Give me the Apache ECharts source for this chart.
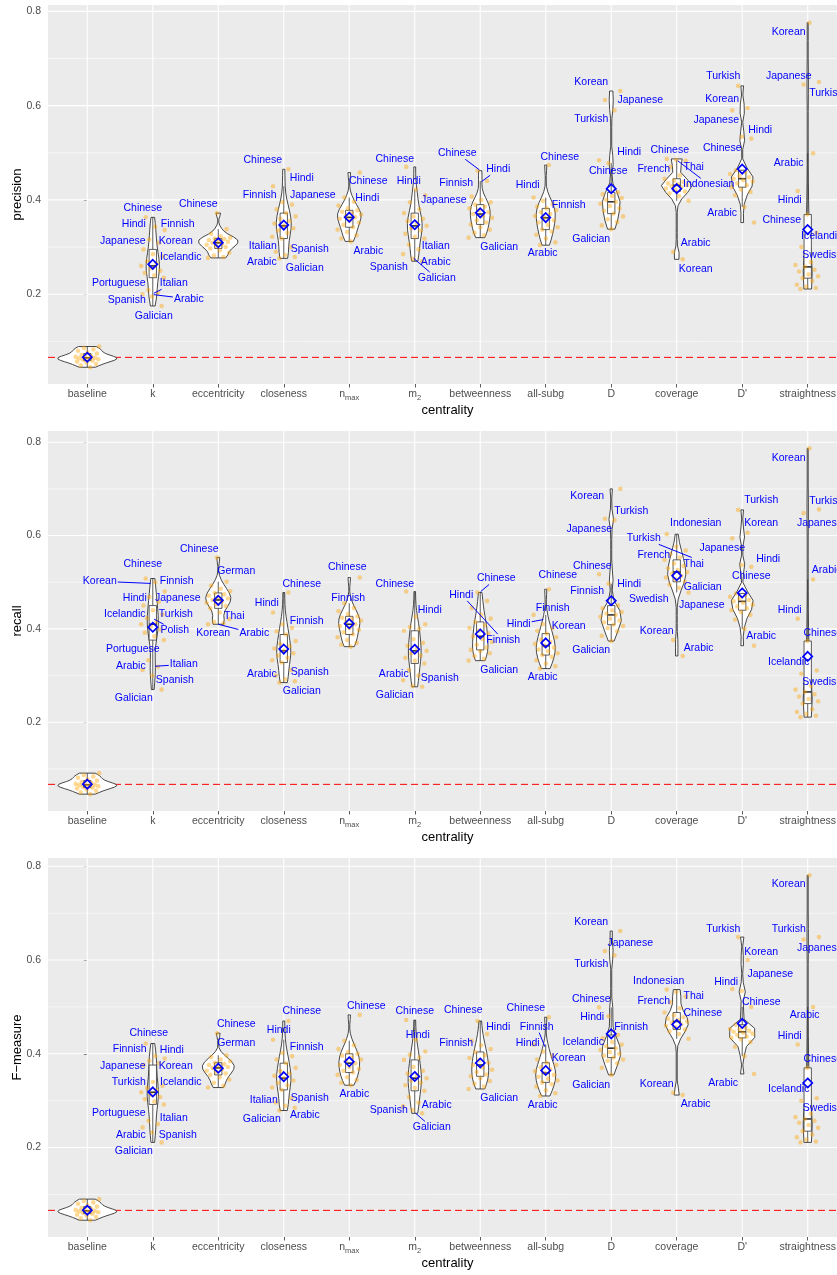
<!DOCTYPE html>
<html><head><meta charset="utf-8">
<script src="https://cdn.jsdelivr.net/npm/echarts@6/dist/echarts.min.js"></script>
<style>html,body{margin:0;padding:0;background:#fff}#c{width:837px;height:1275px}</style>
</head><body><div id="c"></div>
<script>
// ---------------- DATA ----------------
const categories = ['baseline','k','eccentricity','closeness','n_max','m_2','betweenness','all-subg','D','coverage',"D'",'straightness'];
const yTicks = [0.2,0.4,0.6,0.8];
const yMinorTicks = [0.1,0.3,0.5,0.7];
const panelNames = ['precision','recall','F\u2212measure'];
const refLine = [0.066, 0.067, 0.066];
const yRanges = [[0.0095,0.8135],[0.0099,0.824],[0.0092,0.8177]];

const precisionValues = [
 [0.045,0.049,0.052,0.055,0.057,0.059,0.061,0.062,0.063,0.064,0.065,0.066,0.067,0.069,0.071,0.074,0.077,0.080,0.083,0.086,0.089],
 [0.175,0.195,0.200,0.203,0.209,0.235,0.240,0.245,0.250,0.255,0.260,0.265,0.270,0.280,0.285,0.295,0.309,0.316,0.336,0.343,0.363],
 [0.277,0.279,0.282,0.288,0.293,0.297,0.300,0.302,0.305,0.307,0.309,0.311,0.313,0.315,0.317,0.318,0.320,0.323,0.328,0.338,0.372],
 [0.276,0.279,0.283,0.290,0.300,0.318,0.322,0.330,0.335,0.340,0.345,0.350,0.355,0.360,0.365,0.372,0.380,0.390,0.395,0.429,0.465],
 [0.312,0.318,0.325,0.332,0.337,0.342,0.347,0.352,0.356,0.360,0.363,0.366,0.369,0.372,0.375,0.378,0.382,0.388,0.396,0.405,0.458],
 [0.270,0.275,0.285,0.295,0.305,0.318,0.322,0.328,0.335,0.340,0.345,0.350,0.355,0.360,0.365,0.372,0.380,0.395,0.410,0.422,0.470],
 [0.320,0.325,0.330,0.337,0.342,0.348,0.352,0.357,0.362,0.366,0.370,0.374,0.378,0.382,0.386,0.390,0.395,0.400,0.407,0.440,0.462],
 [0.304,0.310,0.318,0.326,0.333,0.337,0.342,0.347,0.352,0.357,0.362,0.366,0.370,0.374,0.378,0.382,0.386,0.391,0.398,0.405,0.474],
 [0.338,0.346,0.353,0.359,0.365,0.371,0.377,0.382,0.387,0.392,0.396,0.400,0.404,0.408,0.412,0.416,0.478,0.484,0.590,0.612,0.631],
 [0.274,0.290,0.398,0.408,0.414,0.418,0.421,0.424,0.427,0.429,0.431,0.433,0.435,0.438,0.441,0.445,0.452,0.470,0.483,0.485,0.487],
 [0.352,0.385,0.410,0.417,0.422,0.427,0.431,0.435,0.439,0.442,0.445,0.448,0.451,0.455,0.459,0.463,0.530,0.534,0.590,0.595,0.642],
 [0.211,0.213,0.216,0.220,0.228,0.234,0.238,0.242,0.248,0.252,0.258,0.262,0.268,0.300,0.330,0.369,0.419,0.499,0.645,0.650,0.776]
];
const recallValues = [
 [0.046,0.050,0.053,0.056,0.058,0.060,0.062,0.063,0.064,0.065,0.066,0.067,0.068,0.070,0.072,0.075,0.078,0.081,0.084,0.087,0.091],
 [0.270,0.300,0.312,0.319,0.333,0.376,0.384,0.392,0.399,0.405,0.410,0.416,0.423,0.431,0.440,0.450,0.458,0.468,0.480,0.500,0.508],
 [0.410,0.412,0.415,0.421,0.435,0.444,0.449,0.453,0.456,0.459,0.462,0.465,0.468,0.471,0.474,0.477,0.481,0.486,0.493,0.501,0.553],
 [0.285,0.288,0.292,0.300,0.312,0.328,0.333,0.338,0.343,0.348,0.353,0.358,0.363,0.368,0.374,0.388,0.395,0.402,0.410,0.435,0.478],
 [0.362,0.366,0.370,0.376,0.382,0.388,0.393,0.398,0.402,0.406,0.410,0.414,0.418,0.421,0.424,0.427,0.432,0.438,0.445,0.455,0.510],
 [0.276,0.278,0.290,0.300,0.312,0.326,0.332,0.338,0.343,0.348,0.353,0.358,0.364,0.370,0.378,0.396,0.400,0.404,0.410,0.426,0.480],
 [0.332,0.336,0.342,0.348,0.352,0.355,0.360,0.366,0.372,0.378,0.384,0.390,0.396,0.402,0.408,0.415,0.422,0.430,0.445,0.460,0.478],
 [0.315,0.320,0.326,0.333,0.340,0.344,0.348,0.352,0.356,0.360,0.364,0.368,0.372,0.377,0.382,0.390,0.396,0.402,0.410,0.430,0.485],
 [0.374,0.385,0.395,0.402,0.406,0.409,0.414,0.418,0.422,0.426,0.430,0.433,0.436,0.440,0.444,0.450,0.497,0.517,0.633,0.636,0.700],
 [0.342,0.376,0.478,0.488,0.495,0.501,0.506,0.510,0.514,0.518,0.522,0.526,0.530,0.535,0.540,0.548,0.553,0.560,0.568,0.576,0.603],
 [0.364,0.400,0.420,0.430,0.436,0.440,0.444,0.448,0.452,0.456,0.459,0.462,0.465,0.469,0.472,0.476,0.533,0.537,0.594,0.606,0.655],
 [0.211,0.214,0.218,0.222,0.228,0.240,0.245,0.250,0.255,0.260,0.265,0.270,0.278,0.304,0.311,0.374,0.422,0.506,0.648,0.656,0.787]
];
const fmeasureValues = [
 [0.045,0.049,0.052,0.055,0.057,0.059,0.061,0.062,0.063,0.064,0.065,0.066,0.067,0.069,0.071,0.074,0.077,0.080,0.083,0.086,0.090],
 [0.211,0.232,0.243,0.250,0.257,0.292,0.298,0.303,0.308,0.313,0.318,0.322,0.327,0.332,0.340,0.376,0.380,0.385,0.390,0.395,0.422],
 [0.328,0.332,0.338,0.345,0.350,0.355,0.358,0.361,0.364,0.367,0.370,0.372,0.374,0.376,0.378,0.381,0.384,0.388,0.393,0.397,0.444],
 [0.279,0.285,0.289,0.296,0.305,0.323,0.328,0.333,0.338,0.343,0.348,0.353,0.358,0.363,0.370,0.380,0.388,0.395,0.402,0.430,0.470],
 [0.333,0.338,0.344,0.350,0.355,0.360,0.364,0.368,0.372,0.376,0.380,0.384,0.388,0.392,0.396,0.400,0.404,0.410,0.418,0.428,0.483],
 [0.273,0.280,0.288,0.296,0.308,0.321,0.327,0.333,0.338,0.343,0.348,0.353,0.358,0.364,0.372,0.387,0.392,0.398,0.405,0.430,0.472],
 [0.325,0.330,0.336,0.342,0.348,0.352,0.356,0.361,0.366,0.371,0.376,0.381,0.386,0.391,0.397,0.404,0.410,0.418,0.428,0.442,0.470],
 [0.310,0.316,0.322,0.330,0.335,0.339,0.343,0.347,0.351,0.355,0.359,0.363,0.367,0.371,0.376,0.381,0.388,0.396,0.405,0.420,0.478],
 [0.355,0.370,0.380,0.385,0.388,0.392,0.396,0.400,0.404,0.408,0.412,0.416,0.420,0.425,0.433,0.440,0.480,0.499,0.610,0.619,0.662],
 [0.312,0.317,0.432,0.442,0.448,0.452,0.456,0.460,0.463,0.466,0.469,0.472,0.475,0.478,0.482,0.488,0.497,0.510,0.522,0.532,0.537],
 [0.357,0.395,0.415,0.425,0.431,0.434,0.437,0.440,0.443,0.445,0.447,0.449,0.451,0.453,0.456,0.462,0.500,0.534,0.538,0.600,0.649],
 [0.211,0.213,0.217,0.222,0.228,0.235,0.242,0.248,0.253,0.257,0.261,0.265,0.272,0.300,0.305,0.370,0.420,0.500,0.644,0.649,0.781]
];

// language annotations: [category, language, label value, label x-shift(px), (point value, point x-shift px) for leader]
const precisionLabels = [
 [1,'Chinese',0.382,-10],[1,'Hindi',0.349,-19],[1,'Finnish',0.349,25],[1,'Japanese',0.313,-30],[1,'Korean',0.313,23],[1,'Icelandic',0.279,28],[1,'Portuguese',0.223,-34],[1,'Italian',0.223,21,0.202,1],[1,'Spanish',0.188,-26],[1,'Arabic',0.19,36,0.199,1],[1,'Galician',0.154,1],
 [2,'Chinese',0.391,-20],
 [3,'Chinese',0.485,-21],[3,'Hindi',0.446,18],[3,'Finnish',0.41,-24],[3,'Japanese',0.41,29],[3,'Italian',0.302,-21],[3,'Spanish',0.295,26],[3,'Arabic',0.268,-22],[3,'Galician',0.255,21],
 [4,'Chinese',0.439,19],[4,'Hindi',0.404,18],[4,'Arabic',0.292,19],
 [5,'Chinese',0.486,-20],[5,'Hindi',0.439,-6],[5,'Japanese',0.399,29],[5,'Italian',0.303,21],[5,'Arabic',0.268,21],[5,'Spanish',0.257,-26],[5,'Galician',0.234,22,0.276,-1],
 [6,'Chinese',0.499,-23,0.464,-1],[6,'Hindi',0.465,18,0.439,1.4],[6,'Finnish',0.435,-24],[6,'Galician',0.3,19],
 [7,'Chinese',0.491,14],[7,'Hindi',0.432,-18],[7,'Finnish',0.389,23],[7,'Arabic',0.287,-3],
 [8,'Korean',0.65,-20],[8,'Japanese',0.611,29],[8,'Turkish',0.572,-20],[8,'Hindi',0.501,18],[8,'Chinese',0.462,-3],[8,'Galician',0.317,-20],
 [9,'Chinese',0.505,-7],[9,'French',0.465,-23],[9,'Thai',0.469,17],[9,'Indonesian',0.433,32,0.483,1],[9,'Arabic',0.308,19],[9,'Korean',0.253,19],
 [10,'Turkish',0.663,-19],[10,'Korean',0.614,-20],[10,'Japanese',0.57,-26],[10,'Hindi',0.548,18],[10,'Chinese',0.51,-20],[10,'Arabic',0.372,-20],
 [11,'Korean',0.757,-19],[11,'Japanese',0.663,-19],[11,'Turkish',0.627,18.5],[11,'Arabic',0.478,-19],[11,'Hindi',0.4,-18],[11,'Chinese',0.358,-26],[11,'Icelandic',0.324,14],[11,'Swedish',0.283,14.5]
];
const recallLabels = [
 [1,'Chinese',0.538,-10],[1,'Korean',0.502,-53,0.4975,-2],[1,'Finnish',0.502,24],[1,'Hindi',0.467,-18],[1,'Japanese',0.467,25],[1,'Icelandic',0.432,-28],[1,'Turkish',0.432,23],[1,'Polish',0.397,22,0.421,1.3],[1,'Portuguese',0.356,-20],[1,'Arabic',0.32,-22],[1,'Italian',0.324,31,0.32,2.3],[1,'Spanish',0.29,22],[1,'Galician',0.251,-19],
 [2,'Chinese',0.57,-19],[2,'German',0.523,18],[2,'Thai',0.427,16],[2,'Korean',0.39,-5],[2,'Arabic',0.39,36,0.41,0],
 [3,'Chinese',0.497,18],[3,'Hindi',0.455,-17],[3,'Finnish',0.417,23],[3,'Arabic',0.304,-22],[3,'Spanish',0.307,26],[3,'Galician',0.266,18],
 [4,'Chinese',0.532,-2],[4,'Finnish',0.467,-1],
 [5,'Chinese',0.497,-20],[5,'Hindi',0.44,15],[5,'Arabic',0.304,-21],[5,'Spanish',0.294,25],[5,'Galician',0.258,-20],
 [6,'Chinese',0.508,16,0.48,0.4],[6,'Hindi',0.472,-19],[6,'Finnish',0.376,23,0.46,-13],[6,'Galician',0.312,19],
 [7,'Chinese',0.515,12],[7,'Finnish',0.444,7],[7,'Hindi',0.41,-27,0.42,-2.5],[7,'Korean',0.406,23],[7,'Arabic',0.296,-3],
 [8,'Korean',0.685,-24],[8,'Turkish',0.653,20],[8,'Japanese',0.613,-22],[8,'Chinese',0.535,-19],[8,'Hindi',0.497,18],[8,'Finnish',0.481,-24],[8,'Galician',0.354,-20],
 [9,'Indonesian',0.626,19],[9,'Turkish',0.594,-33,0.553,15],[9,'French',0.558,-23],[9,'Thai',0.538,17],[9,'Galician',0.489,26],[9,'Swedish',0.463,-28],[9,'Japanese',0.452,25],[9,'Korean',0.395,-20],[9,'Arabic',0.358,22],
 [10,'Turkish',0.676,19],[10,'Korean',0.626,19],[10,'Japanese',0.574,-20],[10,'Hindi',0.549,26],[10,'Chinese',0.513,9],[10,'Arabic',0.384,19],
 [11,'Korean',0.766,-19],[11,'Turkish',0.674,18.5],[11,'Japanese',0.626,12],[11,'Arabic',0.526,19],[11,'Hindi',0.44,-18],[11,'Chinese',0.39,15],[11,'Icelandic',0.328,-19],[11,'Swedish',0.285,14.5]
];
const fmeasureLabels = [
 [1,'Chinese',0.444,-4],[1,'Finnish',0.409,-23],[1,'Hindi',0.408,19],[1,'Japanese',0.373,-30],[1,'Korean',0.373,23],[1,'Turkish',0.339,-24],[1,'Icelandic',0.339,28],[1,'Portuguese',0.273,-34],[1,'Italian',0.262,21],[1,'Arabic',0.227,-22],[1,'Spanish',0.227,25],[1,'Galician',0.193,-19],
 [2,'Chinese',0.463,18],[2,'German',0.422,18],
 [3,'Chinese',0.491,18],[3,'Hindi',0.451,-5],[3,'Finnish',0.414,23],[3,'Italian',0.301,-20],[3,'Spanish',0.305,26],[3,'Galician',0.26,-22],[3,'Arabic',0.27,21],
 [4,'Chinese',0.501,17],[4,'Arabic',0.314,5],
 [5,'Chinese',0.491,0],[5,'Hindi',0.44,3],[5,'Spanish',0.279,-26],[5,'Arabic',0.291,22],[5,'Galician',0.243,17,0.273,1],
 [6,'Chinese',0.493,-17],[6,'Hindi',0.456,18],[6,'Finnish',0.422,-24],[6,'Galician',0.305,19],
 [7,'Chinese',0.497,-20],[7,'Finnish',0.458,-9,0.415,-0.8],[7,'Hindi',0.422,-18],[7,'Korean',0.391,23],[7,'Arabic',0.291,-3],
 [8,'Korean',0.68,-20],[8,'Japanese',0.637,19],[8,'Turkish',0.591,-20],[8,'Chinese',0.516,-20],[8,'Hindi',0.478,-19],[8,'Finnish',0.456,20],[8,'Icelandic',0.424,-28],[8,'Galician',0.333,-20],
 [9,'Indonesian',0.556,-18],[9,'Thai',0.523,17],[9,'French',0.512,-23],[9,'Chinese',0.486,26],[9,'Korean',0.335,-20],[9,'Arabic',0.292,19],
 [10,'Turkish',0.667,-19],[10,'Korean',0.618,19],[10,'Japanese',0.571,28],[10,'Hindi',0.552,-16],[10,'Chinese',0.51,19],[10,'Arabic',0.337,-19],
 [11,'Korean',0.761,-19],[11,'Turkish',0.667,-19],[11,'Japanese',0.625,12],[11,'Arabic',0.483,-3],[11,'Hindi',0.438,-18],[11,'Chinese',0.388,15],[11,'Icelandic',0.324,-19],[11,'Swedish',0.284,15]
];

// ---------------- STATS ----------------
const FONT = 'Liberation Sans, Arial, Helvetica, sans-serif';
function quantile(s, p){ const h=(s.length-1)*p, lo=Math.floor(h), hi=Math.min(lo+1,s.length-1); return s[lo]+(h-lo)*(s[hi]-s[lo]); }
function computeStats(vals){
  const s=[...vals].sort((a,b)=>a-b), n=s.length;
  const mean=s.reduce((a,b)=>a+b,0)/n;
  const sd=Math.sqrt(s.reduce((a,b)=>a+(b-mean)*(b-mean),0)/(n-1));
  const q1=quantile(s,0.25), med=quantile(s,0.5), q3=quantile(s,0.75), iqr=q3-q1;
  let lo=Math.min(sd, iqr/1.34); if(!(lo>0)) lo=sd||1e-3;
  const bw=0.9*lo*Math.pow(n,-0.2);
  const grid=[], dens=[], M=16;
  for(let k=0;k<M;k++){
    const y=s[0]+(s[n-1]-s[0])*k/(M-1); let d=0;
    for(const v of s){ const z=(y-v)/bw; d+=Math.exp(-0.5*z*z); }
    grid.push(y); dens.push(d/(n*bw*Math.sqrt(2*Math.PI)));
  }
  const upper=Math.max(...s.filter(v=>v<=q3+1.5*iqr));
  const lower=Math.min(...s.filter(v=>v>=q1-1.5*iqr));
  return {vals, mean, q1, med, q3, upper, lower, grid, dens};
}
const panels=[precisionValues, recallValues, fmeasureValues].map((vals,p)=>{
  const stats=vals.map(computeStats);
  const maxD=Math.max(...stats.map(s=>Math.max(...s.dens)));
  return {stats, maxD, labels:[precisionLabels,recallLabels,fmeasureLabels][p], ref:refLine[p], yr:yRanges[p], name:panelNames[p]};
});
const mctx=document.createElement('canvas').getContext('2d');
mctx.font='10.5px '+FONT;

function jitter(i,j){ const u=((j+1)*0.6180339887+i*0.2357)%1; return (u*2-1)*0.19; }

// ---------------- RENDERERS ----------------
function bgRender(P){
  return function(params, api){
    const cs=params.coordSys, ch=[];
    const x0=cs.x, x1=cs.x+cs.width;
    yMinorTicks.forEach(v=>{ const y=api.coord([0,v])[1]; ch.push({type:'line',shape:{x1:x0,y1:y,x2:x1,y2:y},style:{stroke:'#fff',lineWidth:0.55}}); });
    yTicks.forEach(v=>{ const y=api.coord([0,v])[1]; ch.push({type:'line',shape:{x1:x0,y1:y,x2:x1,y2:y},style:{stroke:'#fff',lineWidth:1.1}}); });
    categories.forEach((c,i)=>{ const x=api.coord([i,0.4])[0]; ch.push({type:'line',shape:{x1:x,y1:cs.y,x2:x,y2:cs.y+cs.height},style:{stroke:'#fff',lineWidth:1.1}}); });
    const yr=api.coord([0,P.ref])[1];
    ch.push({type:'line',shape:{x1:x0,y1:yr,x2:x1,y2:yr},style:{stroke:'#FF0000',lineWidth:1,lineDash:[7,4]}});
    return {type:'group',children:ch};
  };
}
function violinRender(P){
  return function(params, api){
    const i=params.dataIndex, st=P.stats[i];
    const c0=api.coord([i,st.mean]), cx=c0[0];
    const unit=api.coord([i+1,st.mean])[0]-cx;
    const right=[], left=[];
    for(let k=0;k<st.grid.length;k++){
      const y=api.coord([i,st.grid[k]])[1];
      const hw=Math.max(0.45*st.dens[k]/P.maxD*unit,0.5);
      right.push([cx+hw,y]); left.push([cx-hw,y]);
    }
    const ch=[];
    ch.push({type:'polygon',shape:{points:right.concat(left.reverse())},style:{fill:'#fff',stroke:'#333',lineWidth:0.9}});
    const Y=v=>api.coord([i,v])[1];
    const bx=0.056*unit;
    const lw={stroke:'#333',lineWidth:0.8};
    ch.push({type:'line',shape:{x1:cx,y1:Y(st.q3),x2:cx,y2:Y(st.upper)},style:lw});
    ch.push({type:'line',shape:{x1:cx,y1:Y(st.q1),x2:cx,y2:Y(st.lower)},style:lw});
    ch.push({type:'rect',shape:{x:cx-bx,y:Y(st.q3),width:2*bx,height:Y(st.q1)-Y(st.q3)},style:{fill:'#fff',stroke:'#333',lineWidth:0.8}});
    ch.push({type:'line',shape:{x1:cx-bx,y1:Y(st.med),x2:cx+bx,y2:Y(st.med)},style:{stroke:'#333',lineWidth:1.6}});
    st.vals.forEach((v,j)=>{
      ch.push({type:'circle',shape:{cx:cx+jitter(i,j)*unit,cy:Y(v),r:2.3},style:{fill:'rgba(255,165,0,0.42)'}});
    });
    const my=Y(st.mean), d=4.6;
    ch.push({type:'polygon',shape:{points:[[cx,my-d],[cx+d,my],[cx,my+d],[cx-d,my]]},style:{fill:'none',stroke:'#0000FF',lineWidth:1.7}});
    return {type:'group',children:ch};
  };
}
function labelRender(P){
  return function(params, api){
    const L=P.labels[params.dataIndex];
    const c=api.coord([L[0],L[2]]);
    const lx=c[0]+L[3], ly=c[1];
    const ch=[];
    if(L.length>4){
      const p=api.coord([L[0],L[4]]); const px=p[0]+L[5], py=p[1];
      const w=mctx.measureText(L[1]).width/2+1, h=6;
      const dx=px-lx, dy=py-ly;
      const t=Math.min(dx!==0?w/Math.abs(dx):Infinity, dy!==0?h/Math.abs(dy):Infinity);
      if(t<1){ ch.push({type:'line',shape:{x1:lx+dx*t,y1:ly+dy*t,x2:px,y2:py},style:{stroke:'#0000FF',lineWidth:1}}); }
    }
    ch.push({type:'text',x:lx,y:ly,style:{text:L[1],fill:'#0000FF',fontSize:10.5,fontFamily:FONT,align:'center',verticalAlign:'middle'}});
    return {type:'group',children:ch};
  };
}

// ---------------- OPTION ----------------
const grids=[{left:48,top:5,width:799,height:379},{left:48,top:431,width:799,height:380},{left:48,top:858,width:799,height:379}];
const catIdx=categories.map((c,i)=>i);
function xFmt(v){
  const n=categories[Math.round(v)];
  if(n==='n_max') return '{a|n}{s|max}';
  if(n==='m_2') return '{a|m}{s|2}';
  return '{a|'+n+'}';
}
const option={animation:false, backgroundColor:'#fff',
  grid:grids.map(g=>Object.assign({show:true,backgroundColor:'#EBEBEB',borderWidth:0,containLabel:false,outerBoundsMode:'none'},g)),
  xAxis:[], yAxis:[], series:[]};
panels.forEach((P,p)=>{
  option.xAxis.push({type:'value',gridIndex:p,min:-0.6,max:11.6,
    axisLine:{show:false},splitLine:{show:false},
    axisTick:{show:true,customValues:catIdx,length:3.5,lineStyle:{color:'#333',width:0.8}},
    axisLabel:{customValues:catIdx,margin:5,formatter:xFmt,
      rich:{a:{color:'#4D4D4D',fontSize:10.5,fontFamily:FONT,verticalAlign:'top'},
            s:{color:'#4D4D4D',fontSize:7.5,fontFamily:FONT,verticalAlign:'top',padding:[5,0,0,0]}}},
    name:'centrality',nameLocation:'middle',nameGap:20,nameMoveOverlap:false,nameTextStyle:{color:'#000',fontSize:13,fontFamily:FONT}});
  option.yAxis.push({type:'value',gridIndex:p,min:P.yr[0],max:P.yr[1],
    axisLine:{show:false},splitLine:{show:false},
    axisTick:{show:true,customValues:yTicks,length:3.5,lineStyle:{color:'#333',width:0.8}},
    axisLabel:{customValues:yTicks,margin:7,color:'#4D4D4D',fontSize:10.5,fontFamily:FONT,formatter:v=>v.toFixed(1)},
    name:P.name,nameLocation:'middle',nameGap:24,nameMoveOverlap:false,nameTextStyle:{color:'#000',fontSize:13,fontFamily:FONT}});
  option.series.push({type:'custom',xAxisIndex:p,yAxisIndex:p,silent:true,z:1,
    data:[[0,P.ref]],encode:{x:0,y:1},renderItem:bgRender(P)});
  option.series.push({type:'custom',xAxisIndex:p,yAxisIndex:p,silent:true,z:2,
    data:P.stats.map((s,i)=>[i,s.mean]),encode:{x:0,y:1},renderItem:violinRender(P)});
  option.series.push({type:'custom',xAxisIndex:p,yAxisIndex:p,silent:true,z:3,clip:false,
    data:P.labels.map(l=>[l[0],l[2]]),encode:{x:0,y:1},renderItem:labelRender(P)});
});
const chart=echarts.init(document.getElementById('c'),null,{renderer:'canvas'});
chart.setOption(option);
</script></body></html>
